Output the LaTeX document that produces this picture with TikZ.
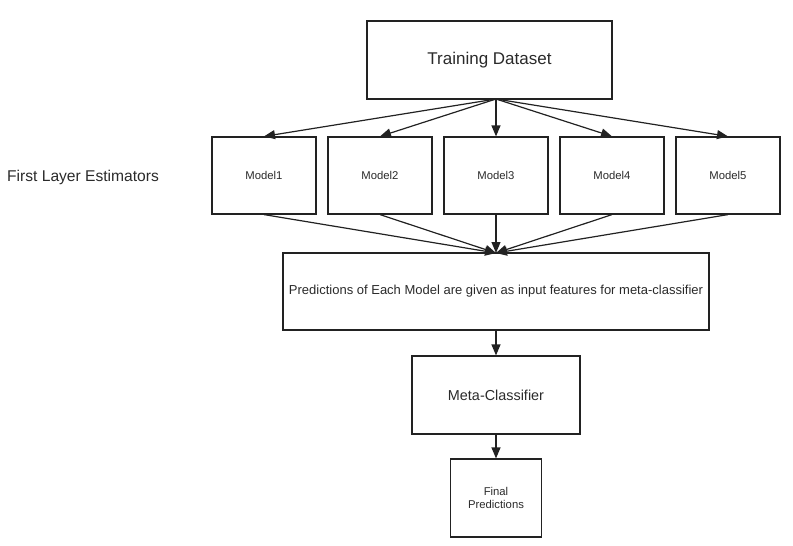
\documentclass[tikz,border=0pt]{standalone}
\usepackage{fontspec}
\setmainfont{Liberation Sans}
\usetikzlibrary{arrows.meta}
\definecolor{ink}{HTML}{222222}
\definecolor{txt}{HTML}{2a2a2a}
\begin{document}
\begin{tikzpicture}[x=1pt,y=-1pt,
  box/.style={draw=ink, line width=1.2pt, rectangle, inner sep=0pt, text=txt, align=center},
  conn/.style={draw=ink, line width=1.2pt, -{Triangle[length=11pt,width=9pt]}},
  lbl/.style={text=txt, inner sep=0pt}]
\useasboundingbox (0,0) rectangle (793,546);
\node[box, minimum width=245pt, minimum height=78pt, font=\fontsize{17}{20}\selectfont] (td) at (489.5,60) {Training Dataset};
\foreach \i/\x in {1/264,2/380,3/496,4/612,5/728}{
  \node[box, minimum width=104pt, minimum height=77pt, font=\fontsize{11.3}{13}\selectfont] (m\i) at (\x,175.5) {Model\i};
}
\node[lbl, font=\fontsize{15.6}{18}\selectfont, anchor=west] (fl) at (7,177) {First Layer Estimators};
\node[box, minimum width=426pt, minimum height=77pt, font=\fontsize{13}{15}\selectfont] (pr) at (496,291.5) {Predictions of Each Model are given as input features for meta-classifier};
\node[box, minimum width=168pt, minimum height=78pt, font=\fontsize{14.4}{17}\selectfont] (mc) at (496,395) {Meta-Classifier};
\node[box, minimum width=91pt, minimum height=78pt, font=\fontsize{11.3}{13.5}\selectfont] (fp) at (496,498) {Final\\Predictions};
\coordinate (tdo) at (496,99);
\coordinate (pri) at (496,253);
\foreach \i in {1,...,5}{
  \draw[conn] (tdo) -- (m\i.north);
  \draw[conn] (m\i.south) -- (pri);
}
\draw[conn] (pr.south) -- (mc.north);
\draw[conn] (mc.south) -- (fp.north);
\end{tikzpicture}
\end{document}
